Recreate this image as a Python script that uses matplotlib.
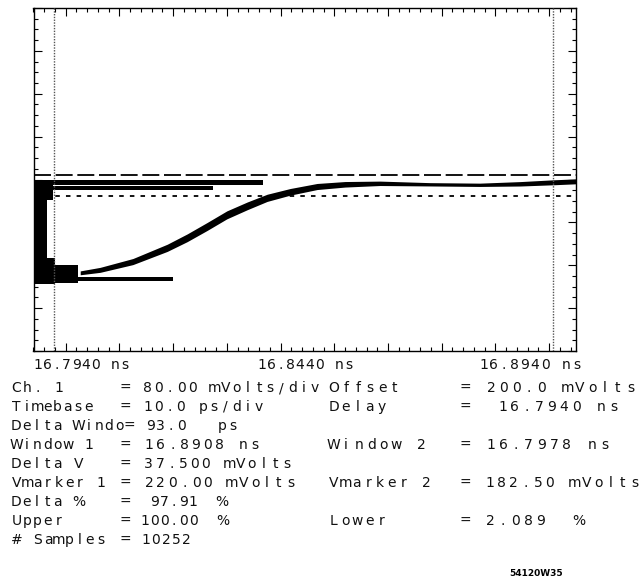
import numpy as np
import matplotlib
matplotlib.use("Agg")
import matplotlib.pyplot as plt
from matplotlib.ticker import MultipleLocator, FixedLocator

# ---------------- data ----------------
# main trace: time (ns), centre voltage (mV), half thickness of the persistence band (mV)
curve_t = [16.8027, 16.8064, 16.8125, 16.8189, 16.8226, 16.8263, 16.8300, 16.8338,
           16.8375, 16.8418, 16.8468, 16.8520, 16.8585, 16.8678, 16.8771, 16.8846,
           16.8907, 16.8950]
curve_mv = [42.5, 47.9, 62.9, 87.8, 105.9, 126.3, 147.5, 163.8,
            178.3, 189.2, 198.8, 202.8, 204.6, 202.8, 201.9, 203.7,
            206.4, 208.2]
curve_half = [3.5, 4.5, 5.5, 6.5, 7.0, 7.2, 7.2, 7.0,
              6.5, 6.0, 5.5, 5.0, 4.0, 3.0, 3.0, 4.0,
              4.5, 4.5]

# pre-trigger jitter blocks: start / end time (ns), low / high voltage (mV)
noise_t0 = [16.7941, 16.7971, 16.7941, 16.7941, 16.7941, 16.7980, 16.7941]
noise_t1 = [16.8367, 16.8274, 16.7976, 16.7965, 16.7980, 16.8023, 16.8200]
noise_lo = [201.9, 192.8, 174.7, 66.0, 22.5, 24.3, 28.0]
noise_hi = [211.0, 200.1, 211.0, 174.7, 69.6, 57.0, 35.2]

vmarker1 = 220.0
vmarker2 = 182.5
window1 = 16.8908
window2 = 16.7978

xtick_labels = ["16.7940 ns", "16.8440 ns", "16.8940 ns"]

left_labels = ["Ch. 1", "Timebase", "Delta Windo= 93.0   ps", "Window 1", "Delta V",
               "Vmarker 1", "Delta %", "Upper", "# Samples"]
left_values = ["= 80.00 mVolts/div", "= 10.0 ps/div", "", "= 16.8908 ns",
               "= 37.500 mVolts", "= 220.00 mVolts", "=  97.91  %", "= 100.00  %",
               "= 10252"]
right_labels = ["Offset", "Delay", "", "Window 2", "", "Vmarker 2", "", "Lower", ""]
right_values = ["= 200.0 mVolts", "=  16.7940 ns", "", "= 16.7978 ns", "",
                "= 182.50 mVolts", "", "= 2.089  %", ""]
figure_id = "54120W35"

# ---------------- figure ----------------
W, H = 642, 585
fig = plt.figure(figsize=(W / 100, H / 100), dpi=100)
fig.patch.set_facecolor("white")

L, R, T, B = 33.5, 576, 8, 351
ax = fig.add_axes([L / W, 1 - B / H, (R - L) / W, (B - T) / H])
ax.set_xlim(16.794, 16.8950)
ax.set_ylim(-99, 522)

for s in ax.spines.values():
    s.set_linewidth(1.0)
    s.set_color("black")

# ticks on all four sides, pointing inward
ax.xaxis.set_major_locator(MultipleLocator(0.01))
ax.xaxis.set_minor_locator(MultipleLocator(0.002))
yt = np.linspace(-99, 522, 33)
ax.yaxis.set_major_locator(FixedLocator(yt[::4]))
ax.yaxis.set_minor_locator(FixedLocator(yt))
ax.tick_params(which="both", direction="in", top=True, right=True,
               labelbottom=False, labelleft=False, width=0.8, color="black")
ax.tick_params(which="major", length=6)
ax.tick_params(which="minor", length=3)

# jitter blocks
ax.bar(noise_t0, np.subtract(noise_hi, noise_lo), bottom=noise_lo,
       width=np.subtract(noise_t1, noise_t0), align="edge", color="black",
       linewidth=0, zorder=3)

# main trace band
ct = np.array(curve_t)
cm = np.array(curve_mv)
ch = np.array(curve_half)
ax.fill_between(ct, cm - ch, cm + ch, color="black", linewidth=0, zorder=3)

# voltage markers
ax.axhline(vmarker1, color="black", linewidth=1.3, dashes=(9.4, 2.6), zorder=4)
ax.axhline(vmarker2, color="black", linewidth=1.3, dashes=(2.5, 3.4), zorder=4)

# window markers
ax.axvline(window2, color="#555555", linewidth=1.0, linestyle=(0, (1, 1)), zorder=4)
ax.axvline(window1, color="#555555", linewidth=1.0, linestyle=(0, (1, 1)), zorder=4)

# ---------------- text (screen font: one glyph per cell) ----------------
font = "DejaVu Sans"
fs = 10
GW = 7.0  # approximate glyph width in px


def cells(s, x0, x1, y, size=fs):
    """Place each character of s on an even pitch between x0 and x1 (pixels)."""
    n = len(s)
    pitch = (x1 - x0 - GW) / max(n - 1, 1)
    for i, c in enumerate(s):
        if c == " ":
            continue
        cx = x0 + GW / 2 + i * pitch
        fig.text(cx / W, 1 - y / H, c, family=font, fontsize=size,
                 va="center", ha="center", color="#111111")


cells(xtick_labels[0], 34, 128, 365)
cells(xtick_labels[1], 258, 352, 365)
cells(xtick_labels[2], 480, 580, 365)

row_y = [388, 407, 426, 445, 464, 483, 502, 521, 540]
label_span = [(13, 62), (13, 92), (13, 236), (13, 92), (13, 82),
              (13, 104), (13, 82), (13, 62), (13, 104)]
value_span = [(122, 318), (122, 262), None, (122, 258), (122, 290),
              (122, 294), (122, 225), (122, 226), (122, 190)]
rlabel_span = [(330, 398), (330, 385), None, (330, 425), None,
               (330, 430), None, (330, 385), None]
rvalue_span = [(462, 634), (462, 617), None, (462, 608), None,
               (462, 638), None, (462, 582), None]

for i, y in enumerate(row_y):
    cells(left_labels[i], *label_span[i], y)
    if left_values[i]:
        cells(left_values[i], *value_span[i], y)
    if right_labels[i]:
        cells(right_labels[i], *rlabel_span[i], y)
    if right_values[i]:
        cells(right_values[i], *rvalue_span[i], y)

fig.text(536 / W, 1 - 574 / H, figure_id, family="DejaVu Sans", fontsize=6.5,
         weight="bold", ha="center", va="center")

fig.savefig("out.png", dpi=100, facecolor="white")
